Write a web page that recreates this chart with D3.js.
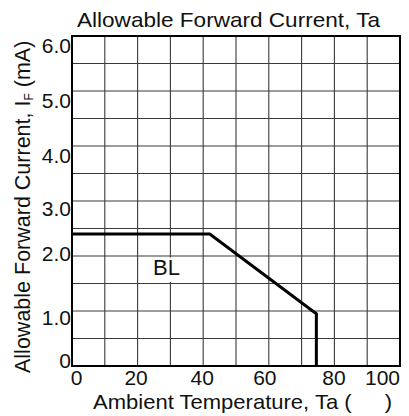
<!DOCTYPE html>
<html><head><meta charset="utf-8">
<script src="https://cdn.jsdelivr.net/npm/d3@7"></script>
<style>body{margin:0;background:#fff}svg{display:block}text{font-family:"Liberation Sans",Arial,sans-serif;fill:#111}</style>
</head><body>
<script>
const xTicks = [0, 20, 40, 60, 80, 100];
const yTicks = [0, 1, 2, 3, 4, 5, 6];
const yTickLabels = ["0", "1.0", "2.0", "3.0", "4.0", "5.0", "6.0"];
const xGrid = [10, 20, 30, 40, 50, 60, 70, 80, 90];
const yGrid = [0.5, 1, 1.5, 2, 2.5, 3, 3.5, 4, 4.5, 5, 5.5];
const curveTa = [0, 42, 74.5, 74.5];
const curveIF = [2.4, 2.4, 0.95, 0];
const seriesName = "BL";
const title = "Allowable Forward Current, Ta";
const xTitle = "Ambient Temperature, Ta (\u2003\u2002)";

const W = 409, H = 416;
const svg = d3.select("body").append("svg").attr("width", W).attr("height", H);
const x = d3.scaleLinear().domain([0, 100]).range([72, 400]);
const y = d3.scaleLinear().domain([0, 6]).range([366, 36]);

// grid
svg.append("g").selectAll("line").data(xGrid).join("line")
  .attr("x1", d => x(d)).attr("x2", d => x(d)).attr("y1", y(0)).attr("y2", y(6))
  .attr("stroke", "#3a3a3a").attr("stroke-width", 1.1);
svg.append("g").selectAll("line").data(yGrid).join("line")
  .attr("x1", x(0)).attr("x2", x(100)).attr("y1", d => y(d)).attr("y2", d => y(d))
  .attr("stroke", "#3a3a3a").attr("stroke-width", 1.1);

// curve
const pts = curveTa.map((t, i) => [t, curveIF[i]]);
svg.append("path").attr("d", d3.line().x(d => x(d[0])).y(d => y(d[1]))(pts))
  .attr("fill", "none").attr("stroke", "#000").attr("stroke-width", 3).attr("stroke-linejoin", "miter");

// frame
svg.append("rect").attr("x", x(0)).attr("y", y(6)).attr("width", x(100) - x(0)).attr("height", y(0) - y(6))
  .attr("fill", "none").attr("stroke", "#000").attr("stroke-width", 2);

// series label
const lbl = svg.append("g");
const lt = lbl.append("text").attr("x", 166.5).attr("y", 275).attr("text-anchor", "middle")
  .attr("font-size", 22).text(seriesName);
const bb = lt.node().getBBox();
lbl.insert("rect", "text").attr("x", bb.x - 2).attr("y", y(2) + 1.5).attr("width", bb.width + 4)
  .attr("height", y(1.5) - y(2) - 3).attr("fill", "#fff");

// axes
const xOff = {0: 4, 20: -2, 40: -1.5, 60: -4.5, 80: -1, 100: -18};
const xAxis = d3.axisBottom(x).tickValues(xTicks).tickSize(0).tickPadding(0).tickFormat(d3.format("d"));
const gx = svg.append("g").attr("transform", `translate(0,${y(0)})`).call(xAxis);
gx.select(".domain").remove();
gx.selectAll("text").attr("font-size", 21).attr("fill", "#111").attr("font-family", "Liberation Sans, Arial, sans-serif")
  .attr("dx", d => xOff[d]).attr("dy", 0).attr("y", 19);

const yOff = {0: -6, 1: 6, 2: -3, 3: 7, 4: 9, 5: 9, 6: 9};
const yAxis = d3.axisLeft(y).tickValues(yTicks).tickSize(0).tickPadding(1).tickFormat((d, i) => yTickLabels[i]);
const gy = svg.append("g").attr("transform", `translate(${x(0)},0)`).call(yAxis);
gy.select(".domain").remove();
gy.selectAll("text").attr("font-size", 21).attr("fill", "#111").attr("font-family", "Liberation Sans, Arial, sans-serif")
  .attr("dy", d => (yOff[d] + 7.5) + "px");

// titles
svg.append("text").attr("x", 77).attr("y", 27).attr("font-size", 21)
  .attr("textLength", 303).attr("lengthAdjust", "spacingAndGlyphs").text(title);
svg.append("text").attr("x", 93).attr("y", 409).attr("font-size", 21)
  .attr("textLength", 299).attr("lengthAdjust", "spacingAndGlyphs").text(xTitle);
const yt = svg.append("text").attr("transform", "translate(30,373) rotate(-90)").attr("font-size", 21.5);
yt.append("tspan").text("Allowable Forward Current, I");
yt.append("tspan").attr("font-size", 12).attr("dy", 3).text("F");
yt.append("tspan").attr("dy", -3).text(" (mA)");
</script>
</body></html>
